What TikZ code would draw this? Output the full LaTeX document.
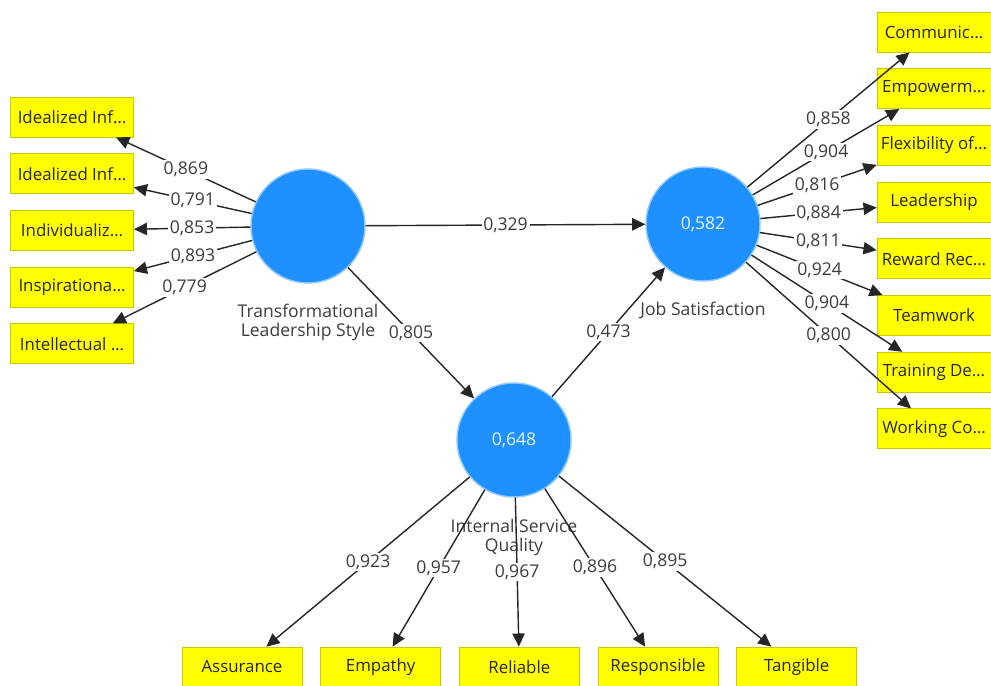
\documentclass[tikz,border=0pt]{standalone}
\usepackage{fontspec}
\setmainfont{Open Sans}
\usepackage{xcolor}
\usepackage{tikz}
\usetikzlibrary{shapes.geometric, arrows.meta, positioning}
\definecolor{lvblue}{RGB}{30,144,255}
\definecolor{lvedge}{RGB}{140,200,255}
\definecolor{mvyellow}{RGB}{255,255,0}
\definecolor{mvedge}{RGB}{200,200,0}
\definecolor{txtgray}{RGB}{60,60,60}
\tikzstyle{latent} = [circle, fill=lvblue, draw=lvedge, line width=0.8pt, minimum size=2.28cm, text=white!90!lvblue, font=\fontsize{10}{12}\selectfont]
\tikzstyle{item} = [rectangle, draw=mvedge, fill=mvyellow, minimum width=2.46cm, minimum height=0.8cm, inner xsep=1pt, text=black!85, font=\fontsize{9.6}{12}\selectfont]
\tikzstyle{lvname} = [align=center, text=txtgray, font=\fontsize{10}{12}\selectfont]
\tikzstyle{val} = [fill=white, inner sep=1pt, text=txtgray, font=\fontsize{10}{12}\selectfont]
\tikzstyle{arrow} = [-{Triangle[length=7.5pt, width=7pt]}, line width=0.8pt, draw=black!85]

\begin{document}
\begin{tikzpicture}[x=0.02cm, y=-0.02cm, node distance=0.32cm and 0.36cm]
\useasboundingbox (0,0) rectangle (991,686);

% latent variables
\node[latent] (tls) at (308,226) {};
\node[latent] (js) at (703,224) {0,582};
\node[latent] (isq) at (514,440) {0,648};

\node[lvname, below=0.28cm of tls] (tlsname) {Transformational\\[-1pt]Leadership Style};
\node[lvname, below=0.28cm of js] (jsname) {Job Satisfaction};
\node[lvname, below=0.3cm of isq] (isqname) {Internal Service\\[-1pt]Quality};

% left column: Transformational Leadership Style indicators
\node[item] (idl1) at (72,117) {Idealized Inf…};
\node[item, below=of idl1] (idl2) {Idealized Inf…};
\node[item, below=of idl2] (indiv) {Individualiz…};
\node[item, below=of indiv] (insp) {Inspirationa…};
\node[item, below=of insp] (intel) {Intellectual …};

% right column: Job Satisfaction indicators
\node[item, minimum width=2.28cm] (comm) at (934,32) {Communic…};
\node[item, minimum width=2.28cm, below=of comm] (empow) {Empowerm…};
\node[item, minimum width=2.28cm, below=of empow] (flex) {Flexibility of…};
\node[item, minimum width=2.28cm, below=of flex] (lead) {Leadership};
\node[item, minimum width=2.28cm, below=of lead] (reward) {Reward Rec…};
\node[item, minimum width=2.28cm, below=of reward] (team) {Teamwork};
\node[item, minimum width=2.28cm, below=of team] (train) {Training De…};
\node[item, minimum width=2.28cm, below=of train] (work) {Working Co…};

% bottom row: Internal Service Quality indicators
\node[item, minimum width=2.4cm] (assur) at (242,667) {Assurance};
\node[item, minimum width=2.4cm, right=of assur] (empa) {Empathy};
\node[item, minimum width=2.4cm, right=of empa] (reli) {Reliable};
\node[item, minimum width=2.4cm, right=of reli] (resp) {Responsible};
\node[item, minimum width=2.4cm, right=of resp] (tang) {Tangible};

% structural paths
\draw[arrow] (tls) -- node[val] {0,329} (js);
\draw[arrow] (tls) -- node[val] {0,805} (isq);
\draw[arrow] (isq) -- node[val] {0,473} (js);

% loadings, left
\draw[arrow] (tls) -- node[val] {0,869} (idl1);
\draw[arrow] (tls) -- node[val] {0,791} (idl2);
\draw[arrow] (tls) -- node[val] {0,853} (indiv);
\draw[arrow] (tls) -- node[val] {0,893} (insp);
\draw[arrow] (tls) -- node[val] {0,779} (intel);

% loadings, right
\draw[arrow] (js) -- node[val] {0,858} (comm);
\draw[arrow] (js) -- node[val] {0,904} (empow);
\draw[arrow] (js) -- node[val] {0,816} (flex);
\draw[arrow] (js) -- node[val] {0,884} (lead);
\draw[arrow] (js) -- node[val] {0,811} (reward);
\draw[arrow] (js) -- node[val] {0,924} (team);
\draw[arrow] (js) -- node[val] {0,904} (train);
\draw[arrow] (js) -- node[val] {0,800} (work);

% loadings, bottom
\draw[arrow] (isq) -- node[val] {0,923} (assur);
\draw[arrow] (isq) -- node[val] {0,957} (empa);
\draw[arrow] (isq) -- node[val] {0,967} (reli);
\draw[arrow] (isq) -- node[val] {0,896} (resp);
\draw[arrow] (isq) -- node[val] {0,895} (tang);

\end{tikzpicture}
\end{document}
